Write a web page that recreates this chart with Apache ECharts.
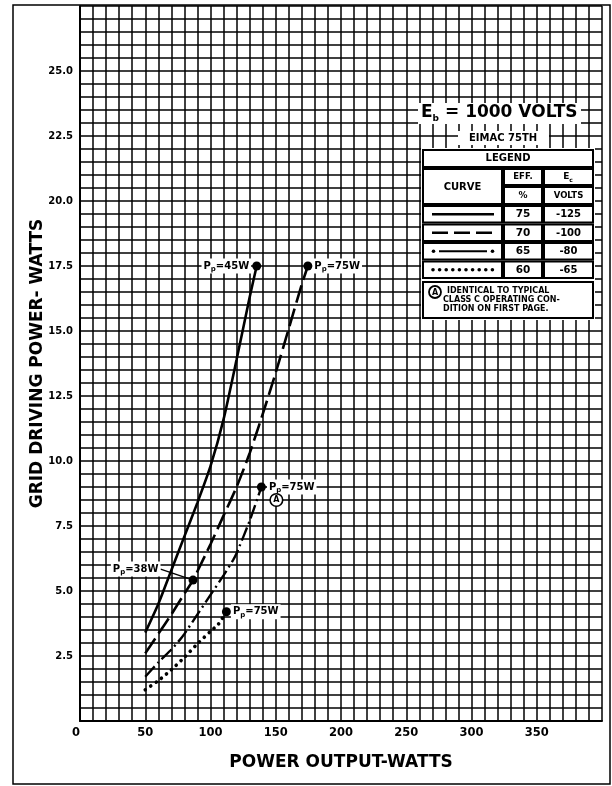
<!DOCTYPE html>
<html><head><meta charset="utf-8">
<script src="https://cdn.jsdelivr.net/npm/echarts@6/dist/echarts.min.js"></script>
<style>html,body{margin:0;padding:0;background:#fff}#c{width:612px;height:786px}</style>
</head><body><div id="c"></div>
<script>
// ---- tick labels ----
const xTickValues = [0, 50, 100, 150, 200, 250, 300, 350];
const xTickLabels = ['0', '50', '100', '150', '200', '250', '300', '350'];
const yTickValues = [2.5, 5, 7.5, 10, 12.5, 15, 17.5, 20, 22.5, 25];
const yTickLabels = ['2.5', '5.0', '7.5', '10.0', '12.5', '15.0', '17.5', '20.0', '22.5', '25.0'];

// ---- curves (power output W, grid driving power W) ----
const eff75X = [50, 60, 70, 80, 90, 100, 110, 120, 130, 135.4];
const eff75Y = [3.4, 4.5, 5.8, 7.1, 8.4, 9.8, 11.6, 13.9, 16.3, 17.5];
const eff70X = [50, 60, 70, 80, 86.6, 100, 110, 120, 130, 140, 150, 160, 170, 174.6];
const eff70Y = [2.6, 3.35, 4.1, 4.9, 5.42, 6.8, 7.9, 9.0, 10.3, 11.8, 13.4, 15.1, 16.8, 17.5];
const eff65X = [50, 60, 70, 76.5, 80, 90, 100, 110, 117.3, 120, 130, 139];
const eff65Y = [1.7, 2.25, 2.75, 3.12, 3.35, 4.1, 4.85, 5.6, 6.19, 6.45, 7.7, 9.0];
const eff60X = [50, 60, 70, 80, 90, 100, 106, 112.2];
const eff60Y = [1.2, 1.55, 1.97, 2.45, 2.97, 3.45, 3.72, 4.2];

// ---- marked operating points (plate dissipation) ----
const opPointX = [135.4, 174.6, 139, 86.6, 112.2];
const opPointY = [17.5, 17.5, 9.0, 5.42, 4.2];
const opPointLabels = ['45W', '75W', '75W', '38W', '75W'];

// ---- legend table ----
const legendEff = ['75', '70', '65', '60'];
const legendEc = ['-125', '-100', '-80', '-65'];
const noteLines = ['IDENTICAL TO TYPICAL', 'CLASS C OPERATING CON-', 'DITION ON FIRST PAGE.'];

const FONT = '"DejaVu Sans", sans-serif';
const zip = (a, b) => a.map((v, i) => [v, b[i]]);

const labelPlacement = [
  {position: 'left', distance: 1, offset: [0, -8]},
  {position: 'right', distance: 0, offset: [0, -8]},
  {position: 'right', distance: 1, offset: [0, -5]},
  {position: 'left', distance: 2},
  {position: 'right', distance: 0, offset: [0, -9]}
];

const richP = {
  m: {fontFamily: FONT, fontWeight: 'bold', fontSize: 10, color: '#000', verticalAlign: 'middle', lineHeight: 13},
  s: {fontFamily: FONT, fontWeight: 'bold', fontSize: 7, color: '#000', verticalAlign: 'bottom', lineHeight: 13, padding: [4, 0, 0, 0]}
};

const lineBase = {type: 'line', showSymbol: false, symbol: 'none', smooth: 0.2, z: 5, silent: true};

// ---- legend graphics ----
const G = [];
G.push({type: 'rect', shape: {x: 13, y: 5, width: 597, height: 779}, style: {fill: 'none', stroke: '#000', lineWidth: 1.5}, z: 1});
// title block
G.push({type: 'rect', shape: {x: 418, y: 103, width: 163, height: 21}, style: {fill: '#fff'}, z: 10});
G.push({type: 'text', x: 421, y: 113, style: {text: '{e|E}{b|b}{e| = 1000 VOLTS}', rich: {
  e: {fontFamily: FONT, fontWeight: 'bold', fontSize: 17, fill: '#000', verticalAlign: 'middle', lineHeight: 20},
  b: {fontFamily: FONT, fontWeight: 'bold', fontSize: 9, fill: '#000', verticalAlign: 'bottom', lineHeight: 20, padding: [10, 0, 0, 0]}
}, verticalAlign: 'middle'}, z: 11});
G.push({type: 'rect', shape: {x: 458, y: 131, width: 91, height: 14}, style: {fill: '#fff'}, z: 10});
G.push({type: 'text', x: 503, y: 138, style: {text: 'EIMAC 75TH', font: 'bold 10px ' + FONT, fill: '#000', align: 'center', verticalAlign: 'middle'}, z: 11});
// table
G.push({type: 'rect', shape: {x: 421, y: 148, width: 174, height: 133}, style: {fill: '#fff'}, z: 10});
G.push({type: 'rect', shape: {x: 421, y: 280, width: 174, height: 40}, style: {fill: '#fff'}, z: 10});
function cell(x, y, w, h) {
  G.push({type: 'rect', shape: {x: x, y: y, width: w, height: h}, style: {fill: '#fff', stroke: '#000', lineWidth: 2}, z: 11});
}
function txt(t, x, y, size, align) {
  G.push({type: 'text', x: x, y: y, style: {text: t, font: 'bold ' + size + 'px ' + FONT, fill: '#000', align: align || 'center', verticalAlign: 'middle'}, z: 12});
}
cell(423, 150, 170, 17); txt('LEGEND', 508, 158.5, 10);
cell(423, 169, 79, 35); txt('CURVE', 462.5, 187, 10);
cell(504, 169, 38, 16); txt('EFF.', 523, 177, 8.5);
cell(504, 187, 38, 17); txt('%', 523, 195.5, 9);
cell(544, 169, 49, 16);
G.push({type: 'text', x: 568, y: 177, style: {text: '{e|E}{c|c}', rich: {
  e: {fontFamily: FONT, fontWeight: 'bold', fontSize: 9, fill: '#000', verticalAlign: 'middle', lineHeight: 12},
  c: {fontFamily: FONT, fontWeight: 'bold', fontSize: 6, fill: '#000', verticalAlign: 'bottom', lineHeight: 12, padding: [4, 0, 0, 0]}
}, align: 'center', verticalAlign: 'middle'}, z: 12});
cell(544, 187, 49, 17); txt('VOLTS', 568.5, 195.5, 8.5);
const rowTop = [206, 224.5, 243, 261.5];
rowTop.forEach((y, i) => {
  cell(423, y, 79, 16.5);
  cell(504, y, 38, 16.5);
  cell(544, y, 49, 16.5);
  txt(legendEff[i], 523, y + 8.5, 10.5);
  txt(legendEc[i], 568.5, y + 8.5, 10);
  const cy = y + 8.25;
  if (i === 0) {
    G.push({type: 'line', shape: {x1: 432, y1: cy, x2: 494, y2: cy}, style: {stroke: '#000', lineWidth: 2.5}, z: 12});
  } else if (i === 1) {
    G.push({type: 'line', shape: {x1: 432, y1: cy, x2: 494, y2: cy}, style: {stroke: '#000', lineWidth: 2.5, lineDash: [16, 6]}, z: 12});
  } else if (i === 2) {
    G.push({type: 'circle', shape: {cx: 433.5, cy: cy, r: 1.8}, style: {fill: '#000'}, z: 12});
    G.push({type: 'circle', shape: {cx: 492.5, cy: cy, r: 1.8}, style: {fill: '#000'}, z: 12});
    G.push({type: 'line', shape: {x1: 439, y1: cy, x2: 487, y2: cy}, style: {stroke: '#000', lineWidth: 2}, z: 12});
  } else {
    for (let k = 0; k < 10; k++) {
      G.push({type: 'circle', shape: {cx: 433 + k * 6.6, cy: cy, r: 1.8}, style: {fill: '#000'}, z: 12});
    }
  }
});
cell(423, 282, 170, 36);
G.push({type: 'circle', shape: {cx: 435, cy: 292, r: 6}, style: {fill: '#fff', stroke: '#000', lineWidth: 1.8}, z: 12});
txt('A', 435, 292.5, 8);
txt(noteLines[0], 447, 290.5, 8, 'left');
txt(noteLines[1], 443, 299.5, 8, 'left');
txt(noteLines[2], 443, 308.5, 8, 'left');

const chart = echarts.init(document.getElementById('c'), null, {renderer: 'canvas'});
chart.setOption({
  backgroundColor: '#fff',
  animation: false,
  grid: {left: 80, right: 10, top: 6, bottom: 65, containLabel: false},
  xAxis: {
    type: 'value', min: 0, max: 400, interval: 10,
    name: 'POWER OUTPUT-WATTS', nameLocation: 'middle', nameGap: 33, nameMoveOverlap: false,
    nameTextStyle: {fontFamily: FONT, fontWeight: 'bold', fontSize: 17, color: '#000'},
    axisLine: {show: true, lineStyle: {color: '#000', width: 2}},
    axisTick: {show: false},
    axisLabel: {interval: 0, margin: 6, fontFamily: FONT, fontWeight: 'bold', fontSize: 11.5, color: '#000', alignMinLabel: 'right',
      formatter: v => { const i = xTickValues.indexOf(Math.round(v)); return (i >= 0 && Math.abs(v - xTickValues[i]) < 1e-6) ? xTickLabels[i] : ''; }},
    splitLine: {show: true, lineStyle: {color: '#000', width: 1.5}}
  },
  yAxis: {
    type: 'value', min: 0, max: 27.5, interval: 0.5,
    name: 'GRID DRIVING POWER- WATTS', nameLocation: 'middle', nameGap: 34, nameRotate: 90, nameMoveOverlap: false,
    nameTextStyle: {fontFamily: FONT, fontWeight: 'bold', fontSize: 17, color: '#000'},
    axisLine: {show: true, lineStyle: {color: '#000', width: 2}},
    axisTick: {show: false},
    axisLabel: {interval: 0, margin: 7, fontFamily: FONT, fontWeight: 'bold', fontSize: 10, color: '#000',
      formatter: v => { const i = yTickValues.findIndex(t => Math.abs(t - v) < 1e-6); return i >= 0 ? yTickLabels[i] : ''; }},
    splitLine: {show: true, lineStyle: {color: '#000', width: 1.5}}
  },
  graphic: G,
  series: [
    Object.assign({}, lineBase, {name: '75%', data: zip(eff75X, eff75Y), lineStyle: {color: '#000', width: 2.6}}),
    Object.assign({}, lineBase, {name: '70%', data: zip(eff70X, eff70Y), lineStyle: {color: '#000', width: 2.6, type: [18, 6]}}),
    Object.assign({}, lineBase, {name: '65%', data: zip(eff65X, eff65Y), lineStyle: {color: '#000', width: 2.4, type: [14, 4, 2, 4]}}),
    Object.assign({}, lineBase, {name: '60%', data: zip(eff60X, eff60Y), lineStyle: {color: '#000', width: 3.6, type: [0.1, 6.5], cap: 'round'}}),
    {
      type: 'scatter', name: 'points', z: 8, symbol: 'circle', symbolSize: 9, silent: true,
      itemStyle: {color: '#000', opacity: 1},
      labelLine: {show: true, lineStyle: {color: '#000', width: 1.4, opacity: 1}},
      labelLayout: p => p.dataIndex === 3 ? {dx: -26, dy: -11} : {},
      data: opPointX.map((x, i) => ({
        value: [x, opPointY[i]],
        label: Object.assign({
          show: true,
          formatter: '{m|P}{s|p}{m|=' + opPointLabels[i] + '}',
          rich: richP, backgroundColor: '#fff', padding: [1, 2], opacity: 1
        }, labelPlacement[i])
      }))
    },
    {
      type: 'scatter', name: 'noteA', z: 8, symbolSize: 0, silent: true,
      itemStyle: {opacity: 1},
      data: [[opPointX[2], opPointY[2]]],
      label: {show: true, position: 'inside', offset: [15, 13], formatter: '{c|A}', rich: {
        c: {width: 11, height: 11, lineHeight: 11, align: 'center', fontFamily: FONT, fontWeight: 'bold', fontSize: 8, color: '#000',
            borderColor: '#000', borderWidth: 1.6, borderRadius: 7, backgroundColor: '#fff'}
      }}
    }
  ]
});
</script>
</body></html>
